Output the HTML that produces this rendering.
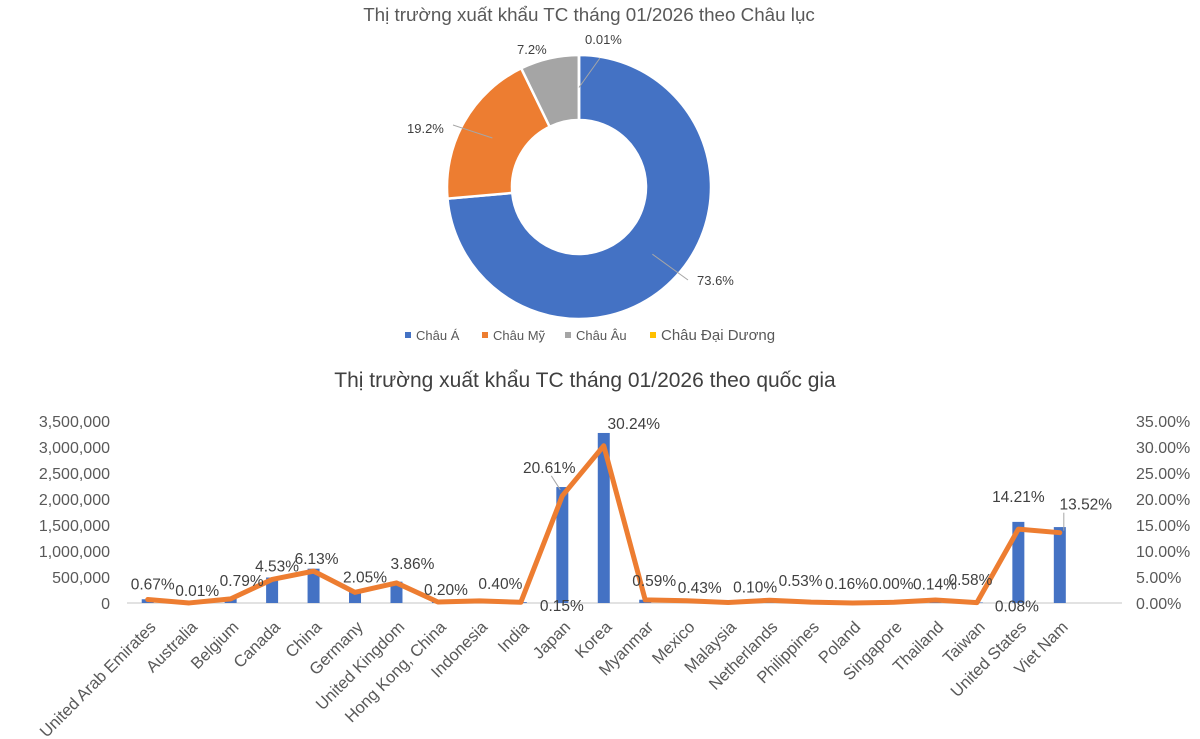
<!DOCTYPE html>
<html><head><meta charset="utf-8">
<style>
html,body{margin:0;padding:0;background:#fff;}
svg{display:block;font-family:"Liberation Sans","DejaVu Sans",sans-serif;}
</style></head>
<body>
<svg id="root" width="1200" height="739" viewBox="0 0 1200 739">
  <text x="589" y="21" text-anchor="middle" font-size="18.8" fill="#595959">Thị trường xuất khẩu TC tháng 01/2026 theo Châu lục</text>
  <g id="donut"></g>
  <g id="legend"></g>
  <text x="585" y="387" text-anchor="middle" font-size="21" fill="#404040">Thị trường xuất khẩu TC tháng 01/2026 theo quốc gia</text>
  <g id="combo"></g>
</svg>
<script>
// ---- Donut data ----
const regions = ["Châu Á","Châu Mỹ","Châu Âu","Châu Đại Dương"];
const regionShares = [73.6, 19.2, 7.2, 0.01];
const regionLabels = ["73.6%","19.2%","7.2%","0.01%"];

// ---- Combo data ----
const countries = ["United Arab Emirates","Australia","Belgium","Canada","China","Germany","United Kingdom","Hong Kong, China","Indonesia","India","Japan","Korea","Myanmar","Mexico","Malaysia","Netherlands","Philippines","Poland","Singapore","Thailand","Taiwan","United States","Viet Nam"];
const exportValues = [72000, 1000, 85000, 490000, 660000, 220000, 410000, 21000, 43000, 16000, 2230000, 3270000, 63000, 46000, 11000, 57000, 17000, 0, 15000, 62000, 9000, 1560000, 1460000];
const sharePct = [0.67, 0.01, 0.79, 4.53, 6.13, 2.05, 3.86, 0.20, 0.40, 0.15, 20.61, 30.24, 0.59, 0.43, 0.10, 0.53, 0.16, 0.00, 0.14, 0.58, 0.08, 14.21, 13.52];
const shareLabels = ["0.67%","0.01%","0.79%","4.53%","6.13%","2.05%","3.86%","0.20%","0.40%","0.15%","20.61%","30.24%","0.59%","0.43%","0.10%","0.53%","0.16%","0.00%","0.14%","0.58%","0.08%","14.21%","13.52%"];
const leftTicks = [0,500000,1000000,1500000,2000000,2500000,3000000,3500000];
const leftTickLabels = ["0","500,000","1,000,000","1,500,000","2,000,000","2,500,000","3,000,000","3,500,000"];
const rightTicks = [0,5,10,15,20,25,30,35];
const rightTickLabels = ["0.00%","5.00%","10.00%","15.00%","20.00%","25.00%","30.00%","35.00%"];

const NS = "http://www.w3.org/2000/svg";
function mk(tag, attrs, parent){const e=document.createElementNS(NS,tag);for(const k in attrs)e.setAttribute(k,attrs[k]);parent.appendChild(e);return e;}

// ---- Donut ----
(function(){
  const g = document.getElementById('donut');
  const cx=579, cy=187, R=132, r=67;
  const colors=["#4472C4","#ED7D31","#A5A5A5","#FFC000"];
  const total = regionShares.reduce((a,b)=>a+b,0);
  let a0 = 0;
  const labelPos=[[697,285],[407,133],[517,54],[585,44]];
  const leaderEnd=[[688,280],[453,125],null,[600,58]];
  regionShares.forEach((v,i)=>{
    const a1 = a0 + v/total*2*Math.PI;
    const p=(a,rad)=>[cx+rad*Math.sin(a), cy-rad*Math.cos(a)];
    const [x0,y0]=p(a0,R),[x1,y1]=p(a1,R),[x2,y2]=p(a1,r),[x3,y3]=p(a0,r);
    const large=(a1-a0)>Math.PI?1:0;
    const path = mk('path',{d:`M${x0},${y0} A${R},${R} 0 ${large} 1 ${x1},${y1} L${x2},${y2} A${r},${r} 0 ${large} 0 ${x3},${y3} Z`,fill:colors[i],stroke:"#fff","stroke-width":2.5},g);
    
    
    const am=(a0+a1)/2; const [mx,my]=p(am,(R+r)/2);
    const [lx,ly]=labelPos[i];
    if(leaderEnd[i]){
      const ln = mk('polyline',{points:`${mx},${my} ${leaderEnd[i][0]},${leaderEnd[i][1]}`,fill:"none",stroke:"#A6A6A6","stroke-width":1},g);
      
      
    }
    const t = mk('text',{x:lx,y:ly,"font-size":13,fill:"#404040"},g);
    t.textContent = regionLabels[i];
    
    
    a0=a1;
  });
  const lg=document.getElementById('legend');
  const lx=[405,482,565,650];
  regions.forEach((n,i)=>{
    const s=mk('rect',{x:lx[i],y:332,width:6,height:6,fill:colors[i]},lg);
    
    
    const t=mk('text',{x:lx[i]+11,y:340,"font-size":i===3?15:13,fill:"#595959"},lg);
    t.textContent=n;
    
    
  });
})();

// ---- Combo ----
(function(){
  const g=document.getElementById('combo');
  const left=127, right=1122, y0=603, yTop=421;
  const nSlots=24, band=(right-left)/nSlots;
  const xS=i=>left+band*(i+0.5);
  const yL=v=>y0-(v/3500000)*(y0-yTop);
  const yR=v=>y0-(v/35)*(y0-yTop);
  const ax=mk('line',{x1:left,y1:y0,x2:right,y2:y0,stroke:"#D9D9D9","stroke-width":1.5},g);
  
  
  leftTicks.forEach((v,i)=>{
    const t=mk('text',{x:110,y:yL(v)+6,"text-anchor":"end","font-size":16,fill:"#595959"},g);
    t.textContent=leftTickLabels[i];
    
    
  });
  rightTicks.forEach((v,i)=>{
    const t=mk('text',{x:1136,y:yR(v)+6,"font-size":16,fill:"#595959"},g);
    t.textContent=rightTickLabels[i];
    
    
  });
  const bw=12;
  exportValues.forEach((v,i)=>{
    const b=mk('rect',{x:xS(i)-bw/2,y:yL(v),width:bw,height:y0-yL(v),fill:"#4472C4"},g);
    
    
  });
  const pts=sharePct.map((v,i)=>xS(i)+','+yR(v)).join(' ');
  const line=mk('polyline',{points:pts,fill:"none",stroke:"#ED7D31","stroke-width":5,"stroke-linejoin":"round","stroke-linecap":"round"},g);
  
  
  const ldx=[5,8,11,5,3,10,16,8,21,41,-13,30,9,13,27,31,36,39,41,35,40,0,26];
  const ldy=[-15,-12,-18,-13,-12,-15,-19,-12,-17,4,-28,-22,-19,-13,-15,-19,-18,-19,-18,-20,4,-32,-28];
  sharePct.forEach((v,i)=>{
    const t=mk('text',{x:xS(i)+ldx[i],y:yR(v)+ldy[i]+5,"text-anchor":"middle","font-size":15.5,fill:"#404040"},g);
    t.textContent=shareLabels[i];
    
    
  });
  [10,22].forEach(i=>{
    const l=mk('line',{x1:xS(i)+ldx[i]+(i===10?2:-22),y1:yR(sharePct[i])+ldy[i]+8,x2:xS(i)+(i===10?-2:4),y2:yR(sharePct[i])-(i===10?6:2),stroke:"#A6A6A6","stroke-width":1},g);
    
    
  });
  countries.forEach((c,i)=>{
    const x=xS(i)+9, y=628;
    const t=mk('text',{x:x,y:y,"text-anchor":"end","font-size":16.5,fill:"#595959",transform:`rotate(-45 ${x} ${y})`},g);
    t.textContent=c;
    
    
  });
})();
</script>
</body></html>
